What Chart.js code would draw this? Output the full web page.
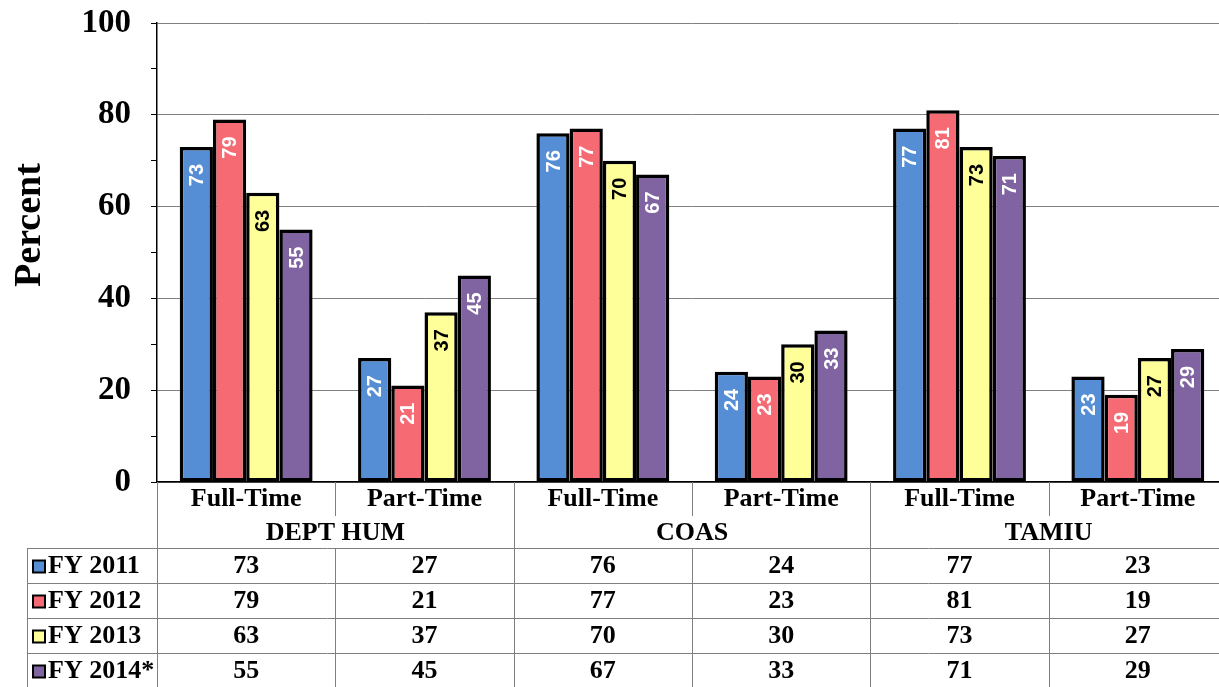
<!DOCTYPE html>
<html>
<head>
<meta charset="utf-8">
<script src="https://cdn.jsdelivr.net/npm/chart.js@4"></script>
<style>
  html, body { margin: 0; padding: 0; background: #fff; overflow: hidden; }
  #wrap { width: 1228px; height: 687px; }
</style>
</head>
<body>
<div id="wrap"><canvas id="chart" width="1228" height="687"></canvas></div>
<script>
// datos del gráfico
const categories = ['Full-Time', 'Part-Time', 'Full-Time', 'Part-Time', 'Full-Time', 'Part-Time'];
const groups = ['DEPT HUM', 'COAS', 'TAMIU'];
const seriesNames = ['FY 2011', 'FY 2012', 'FY 2013', 'FY 2014*'];
const fy2011 = [73, 27, 76, 24, 77, 23];
const fy2012 = [79, 21, 77, 23, 81, 19];
const fy2013 = [63, 37, 70, 30, 73, 27];
const fy2014 = [55, 45, 67, 33, 71, 29];
const colors = ['#558ED5', '#F56A73', '#FFFF99', '#8064A2'];
const labelColors = ['#fff', '#fff', '#000', '#fff'];

const serif = '"Liberation Serif", "Times New Roman", serif';
const sans = '"Liberation Sans", Arial, sans-serif';

// etiquetas de valor dentro de las barras
const barLabels = {
    id: 'barLabels',
    afterDatasetsDraw(chart) {
        const ctx = chart.ctx;
        ctx.save();
        ctx.font = 'bold 20px ' + sans;
        ctx.textAlign = 'right';
        ctx.textBaseline = 'middle';
        chart.data.datasets.forEach(function(ds, i) {
            chart.getDatasetMeta(i).data.forEach(function(bar, j) {
                ctx.save();
                ctx.translate(bar.x, bar.y + 17);
                ctx.rotate(-Math.PI / 2);
                ctx.fillStyle = labelColors[i];
                ctx.fillText(String(ds.data[j]), 0, 1);
                ctx.restore();
            });
        });
        ctx.restore();
    }
};

// tabla de datos bajo el eje
const dataTable = {
    id: 'dataTable',
    afterDraw(chart) {
        const ctx = chart.ctx;
        const area = chart.chartArea;
        const x = chart.scales.x;
        const n = categories.length;
        const step = (area.right - area.left) / n;
        const top = area.bottom;
        const rowTop = 548;
        const rowH = 35;
        const tableLeft = 27;
        ctx.save();
        ctx.strokeStyle = '#808080';
        ctx.lineWidth = 1;

        // líneas verticales
        for (let k = 0; k <= n; k++) {
            const lx = Math.round(area.left + k * step) + 0.5;
            ctx.beginPath();
            if (k % 2 === 0) {
                ctx.moveTo(lx, top);
                ctx.lineTo(lx, 687);
            } else {
                ctx.moveTo(lx, top);
                ctx.lineTo(lx, top + 34);
                ctx.moveTo(lx, rowTop);
                ctx.lineTo(lx, 687);
            }
            ctx.stroke();
        }
        ctx.beginPath();
        ctx.moveTo(tableLeft + 0.5, rowTop);
        ctx.lineTo(tableLeft + 0.5, 687);
        ctx.stroke();

        // líneas horizontales
        for (let r = 0; r < seriesNames.length; r++) {
            const ly = rowTop + r * rowH + 0.5;
            ctx.beginPath();
            ctx.moveTo(tableLeft, ly);
            ctx.lineTo(area.right + 2, ly);
            ctx.stroke();
        }

        ctx.fillStyle = '#000';
        ctx.font = 'bold 26px ' + serif;
        ctx.textAlign = 'center';
        ctx.textBaseline = 'middle';
        categories.forEach(function(c, j) {
            ctx.fillText(c, x.getPixelForValue(j), top + 17);
        });
        groups.forEach(function(g, k) {
            ctx.fillText(g, area.left + (2 * k + 1) * step, top + 51);
        });

        const seriesData = [fy2011, fy2012, fy2013, fy2014];
        seriesData.forEach(function(vals, r) {
            const cy = rowTop + r * rowH + rowH / 2 + 1;
            vals.forEach(function(v, j) {
                ctx.fillText(String(v), x.getPixelForValue(j), cy);
            });
            // muestra de leyenda
            ctx.fillStyle = colors[r];
            ctx.fillRect(33, cy - 6, 12, 12);
            ctx.strokeStyle = '#000';
            ctx.lineWidth = 2;
            ctx.strokeRect(33, cy - 6, 12, 12);
            ctx.fillStyle = '#000';
            ctx.textAlign = 'left';
            ctx.fillText(seriesNames[r], 48, cy);
            ctx.textAlign = 'center';
        });

        // título del eje Y
        ctx.save();
        ctx.font = 'bold 38px ' + serif;
        ctx.translate(30, 225);
        ctx.rotate(-Math.PI / 2);
        ctx.fillText('Percent', 0, 0);
        ctx.restore();

        ctx.restore();
    }
};

const datasets = [fy2011, fy2012, fy2013, fy2014].map(function(vals, i) {
    return {
        label: seriesNames[i],
        data: vals,
        backgroundColor: colors[i],
        borderColor: '#000',
        borderWidth: 3.5,
        borderSkipped: false,
        categoryPercentage: 0.745,
        barPercentage: 1.0
    };
});

new Chart(document.getElementById('chart'), {
    type: 'bar',
    data: { labels: categories, datasets: datasets },
    options: {
        responsive: false,
        animation: false,
        devicePixelRatio: 1,
        layout: { padding: { top: 23, right: 1, bottom: 197, left: 0 } },
        plugins: {
            legend: { display: false },
            tooltip: { enabled: false }
        },
        scales: {
            x: {
                grid: { display: false },
                border: { color: '#000', width: 1.5 },
                ticks: { display: false }
            },
            y: {
                min: 0,
                max: 100,
                afterFit: function(scale) { scale.width = 157; },
                border: { color: '#000', width: 1.5 },
                grid: {
                    color: function(c) {
                        if (c.tick && c.tick.value % 20 !== 0) return 'rgba(0,0,0,0)';
                        return '#808080';
                    },
                    tickColor: '#000',
                    tickLength: 6,
                    lineWidth: 1
                },
                ticks: {
                    stepSize: 10,
                    padding: 20,
                    color: '#000',
                    font: { family: serif, size: 33, weight: 'bold', lineHeight: 0.1 },
                    callback: function(v) { return v % 20 === 0 ? v : ''; }
                }
            }
        }
    },
    plugins: [barLabels, dataTable]
});
</script>
</body>
</html>
